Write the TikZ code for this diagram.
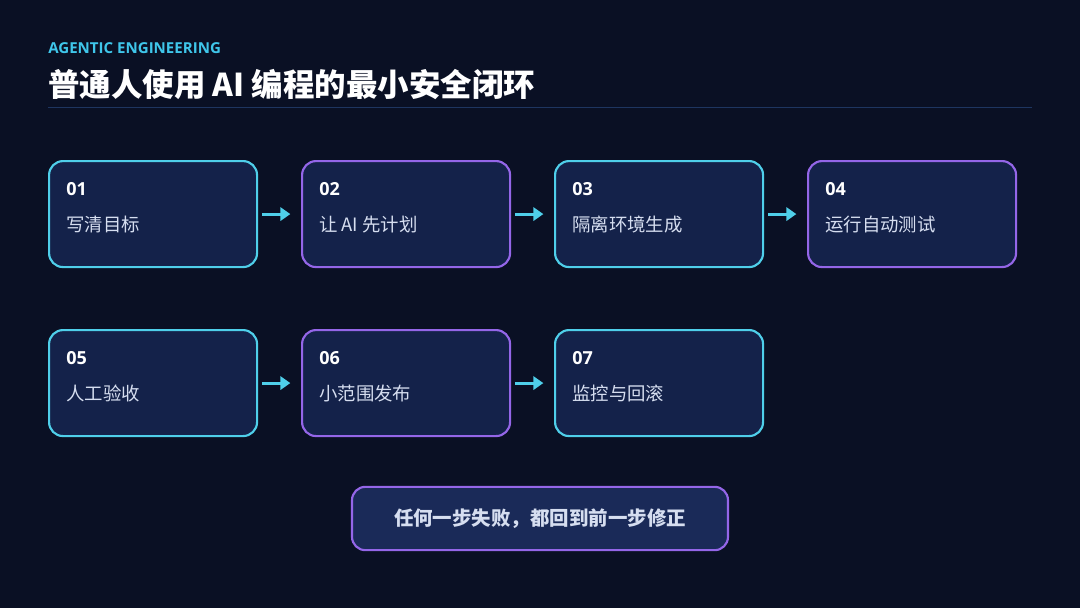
\documentclass[tikz,border=0pt]{standalone}
\usepackage{fontspec}
\setmainfont{Noto Sans CJK SC}
\newfontfamily\latinfont{Open Sans}
\usetikzlibrary{arrows.meta}
\definecolor{bgc}{HTML}{0A1024}
\definecolor{boxfill}{HTML}{14224A}
\definecolor{cyanb}{HTML}{4FCFEA}
\definecolor{purpb}{HTML}{9466E8}
\definecolor{bottomfill}{HTML}{1A2A58}
\definecolor{subc}{HTML}{3FC6EA}
\definecolor{bodyt}{HTML}{D6DEF0}
\definecolor{linec}{HTML}{1E3560}
\begin{document}
\begin{tikzpicture}[x=0.75pt,y=-0.75pt,
  card/.style={draw, line width=1.6pt, fill=boxfill, rounded corners=10.5pt, minimum width=156pt, minimum height=79.5pt, inner sep=0pt, anchor=north west},
  cy/.style={card, draw=cyanb},
  pu/.style={card, draw=purpb},
  num/.style={anchor=base west, inner sep=0pt, text=white, font=\latinfont\bfseries\fontsize{13.5}{16}\selectfont},
  lab/.style={anchor=west, inner sep=0pt, text=bodyt, font=\fontsize{13.8}{16}\selectfont},
  flow/.style={draw=cyanb, line width=2.2pt, -{Triangle[length=7.5pt,width=10pt]}}
]
\fill[bgc] (0,0) rectangle (1080,608);
\useasboundingbox (0,0) rectangle (1080,608);
\node[anchor=base west, inner sep=0pt, text=subc, font=\latinfont\bfseries\fontsize{11.3}{13}\selectfont] (sub) at (48,53) {AGENTIC ENGINEERING};
\node[anchor=base west, text=white, font=\bfseries\fontsize{23.6}{27}\selectfont, inner sep=0pt] (title) at (48,96) {普通人使用 AI 编程的最小安全闭环};
\draw[linec, line width=1pt] (48,107.5) -- (1032,107.5);

% row 1
\node[cy] (b1) at (48,160) {};
\node[pu] (b2) at (301,160) {};
\node[cy] (b3) at (554,160) {};
\node[pu] (b4) at (807,160) {};
% row 2
\node[cy] (b5) at (48,329) {};
\node[pu] (b6) at (301,329) {};
\node[cy] (b7) at (554,329) {};

\foreach \b/\n/\t in {b1/01/写清目标, b2/02/让 AI 先计划, b3/03/隔离环境生成, b4/04/运行自动测试, b5/05/人工验收, b6/06/小范围发布, b7/07/监控与回滚}{
  \node[num] (\b n) at ([xshift=13.5pt,yshift=-26.5pt]\b.north west) {\n};
  \node[lab] (\b t) at ([xshift=13.5pt,yshift=-48.5pt]\b.north west) {\t};
}

\coordinate (a1s) at ([xshift=3pt]b1.east); \coordinate (a1e) at ([xshift=-8pt]b2.west);
\draw[flow] (a1s) -- (a1e);
\coordinate (a2s) at ([xshift=3pt]b2.east); \coordinate (a2e) at ([xshift=-8pt]b3.west);
\draw[flow] (a2s) -- (a2e);
\coordinate (a3s) at ([xshift=3pt]b3.east); \coordinate (a3e) at ([xshift=-8pt]b4.west);
\draw[flow] (a3s) -- (a3e);
\coordinate (a5s) at ([xshift=3pt]b5.east); \coordinate (a5e) at ([xshift=-8pt]b6.west);
\draw[flow] (a5s) -- (a5e);
\coordinate (a6s) at ([xshift=3pt]b6.east); \coordinate (a6e) at ([xshift=-8pt]b7.west);
\draw[flow] (a6s) -- (a6e);

\node[draw=purpb, line width=1.6pt, fill=bottomfill, rounded corners=10pt, minimum width=282pt, minimum height=47.5pt, inner sep=0pt, text=bodyt, font=\bfseries\fontsize{14.6}{17}\selectfont] (note) at (540,518.5) {任何一步失败，都回到前一步修正};
\end{tikzpicture}
\end{document}
